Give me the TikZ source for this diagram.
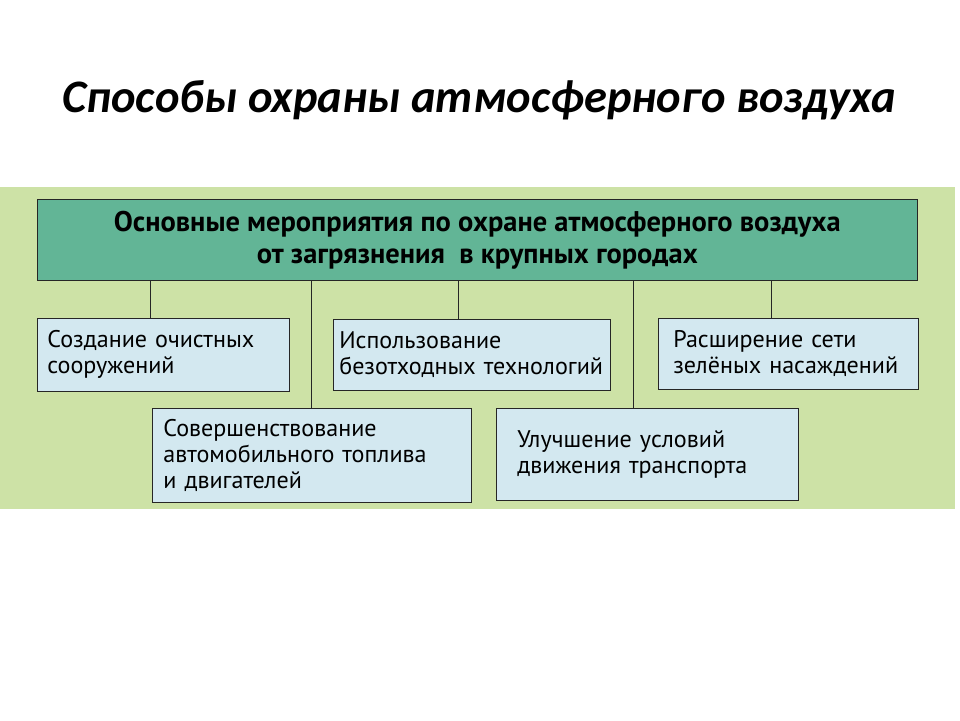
\documentclass[tikz,border=0pt]{standalone}
\usepackage{fontspec}
\setmainfont{PT Sans}
\newfontfamily\titlefont{Carlito}
\usetikzlibrary{positioning, calc}

\definecolor{panelgreen}{HTML}{CDE2A6}
\definecolor{headgreen}{HTML}{62B596}
\definecolor{boxblue}{HTML}{D3E8F0}

\tikzset{
  measure/.style={draw=black!85, fill=boxblue, anchor=north west, align=left,
    inner xsep=0.2cm, inner ysep=0pt, font=\fontsize{13.7}{14.8}\selectfont},
  link/.style={draw=black!85, line width=0.6pt}
}

\begin{document}
\begin{tikzpicture}[x=0.02cm, y=-0.02cm]

\useasboundingbox (0,0) rectangle (960,720);

\node[font=\titlefont\bfseries\itshape\fontsize{26.5}{32}\selectfont] (title) at (479,100) {Способы охраны атмосферного воздуха};

% green plate behind the scheme
\fill[panelgreen] (0,187) rectangle (955,509);

\node[draw=black!85, fill=headgreen, anchor=north west, minimum width=17.6cm, minimum height=1.62cm, align=center,
  font=\bfseries\fontsize{16.2}{18.2}\selectfont] (head) at (37,199)
  {Основные мероприятия по охране атмосферного воздуха\\от загрязнения \ в крупных городах};

\node[measure, text width=4.64cm, minimum height=1.46cm] (clean) at (37,318) {Создание очистных\\сооружений};
\node[measure, text width=5.3cm, minimum height=1.42cm, inner xsep=0.12cm] (waste) at (333,319) {Использование\\безотходных технологий};
\node[measure, text width=4.6cm, minimum height=1.42cm, inner xsep=0.3cm] (green) at (658,318) {Расширение сети\\зелёных насаждений};
\node[measure, text width=5.94cm, minimum height=1.88cm, inner xsep=0.22cm] (fuel) at (152,408) {Совершенствование\\автомобильного топлива\\и двигателей};
\node[measure, text width=5.2cm, minimum height=1.84cm, inner xsep=0.42cm] (traffic) at (496,408) {Улучшение условий\\движения транспорта};

\draw[link] ([xshift=-0.26cm]clean.north) -- ([xshift=-0.26cm]clean.north |- head.south);
\draw[link] (fuel.north) -- (fuel.north |- head.south);
\draw[link] ([xshift=-0.27cm]waste.north) -- ([xshift=-0.27cm]waste.north |- head.south);
\draw[link] ([xshift=-0.28cm]traffic.north) -- ([xshift=-0.28cm]traffic.north |- head.south);
\draw[link] ([xshift=-0.34cm]green.north) -- ([xshift=-0.34cm]green.north |- head.south);

\end{tikzpicture}
\end{document}
